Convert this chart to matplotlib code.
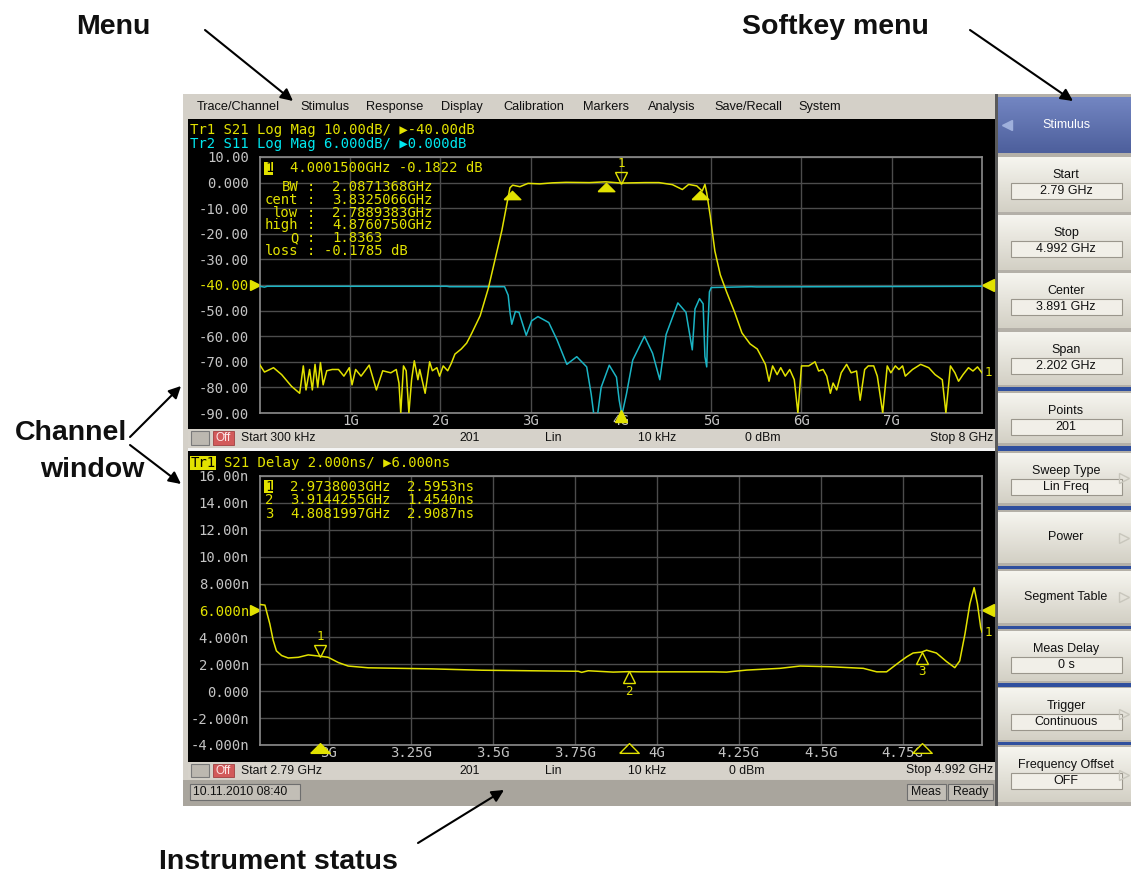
import numpy as np
import matplotlib
matplotlib.use("Agg")
import matplotlib.pyplot as plt
from matplotlib.patches import Rectangle
from matplotlib.colors import LinearSegmentedColormap
from matplotlib.transforms import offset_copy, blended_transform_factory

# ---------------- channel 1: log magnitude, 300 kHz .. 8 GHz ----------------
s21_freq = [0.0003, 0.05, 0.15, 0.24, 0.35, 0.44, 0.48, 0.51, 0.55, 0.58, 0.61, 0.64,
            0.67, 0.70, 0.74, 0.80, 0.87, 0.93, 0.99, 1.02, 1.06, 1.12, 1.21, 1.29,
            1.36, 1.45, 1.51, 1.54, 1.56, 1.59, 1.62, 1.65, 1.68, 1.71, 1.75, 1.77,
            1.83, 1.88, 1.91, 1.96, 1.99, 2.03, 2.08, 2.12, 2.16, 2.23, 2.29, 2.34,
            2.44, 2.53, 2.60, 2.68, 2.73, 2.77, 2.80, 2.88, 2.97, 3.10, 3.24, 3.39,
            3.65, 3.83, 4.00, 4.27, 4.42, 4.57, 4.68, 4.75, 4.84, 4.90, 4.93, 4.95,
            4.99, 5.04, 5.10, 5.17, 5.26, 5.34, 5.43, 5.51, 5.60, 5.64, 5.68, 5.73,
            5.77, 5.82, 5.87, 5.92, 5.96, 6.00, 6.08, 6.15, 6.19, 6.24, 6.28, 6.32,
            6.35, 6.39, 6.44, 6.50, 6.55, 6.61, 6.65, 6.70, 6.74, 6.80, 6.84, 6.90,
            6.95, 6.99, 7.04, 7.08, 7.12, 7.15, 7.23, 7.32, 7.41, 7.48, 7.56, 7.60,
            7.65, 7.70, 7.74, 7.79, 7.85, 7.90, 7.95, 8.00]
s21_db = [-71.3, -74.0, -72.3, -75.0, -79.6, -82.3, -71.6, -81.0, -73.0, -81.0, -71.0, -80.0,
          -70.3, -79.0, -73.5, -73.0, -73.0, -75.6, -72.3, -79.0, -73.0, -75.6, -71.3, -81.0,
          -73.5, -74.3, -73.0, -78.3, -90.0, -71.6, -73.5, -90.0, -77.0, -69.6, -77.0, -73.0,
          -82.3, -70.0, -73.5, -72.3, -75.6, -71.6, -73.5, -70.6, -67.0, -65.0, -62.7, -59.3,
          -52.0, -41.3, -30.7, -18.7, -9.3, -2.0, -1.0, -1.6, -0.3, -0.5, -0.1, 0.1,
          0.0, 0.3, -0.18, 0.0, 0.0, -0.8, -2.7, -0.7, -1.3, -3.3, -0.7, -4.0,
          -13.3, -26.7, -36.0, -42.7, -50.7, -58.7, -63.0, -65.0, -71.0, -77.6, -71.6, -75.0,
          -72.3, -75.6, -73.0, -77.0, -90.0, -71.6, -71.6, -70.0, -73.6, -73.0, -75.6, -82.3,
          -78.3, -81.0, -74.3, -71.0, -74.3, -73.6, -85.0, -73.0, -71.6, -71.6, -75.6, -90.0,
          -71.6, -74.3, -71.6, -73.0, -71.6, -75.6, -73.0, -71.0, -72.3, -75.0, -77.0, -90.0,
          -71.6, -74.3, -77.6, -75.0, -72.3, -73.6, -72.0, -74.3]

s11_freq = [0.0003, 0.05, 0.08, 2.07, 2.10, 2.71, 2.75, 2.77, 2.79, 2.83, 2.87, 2.95,
            3.01, 3.08, 3.20, 3.29, 3.40, 3.51, 3.62, 3.67, 3.70, 3.74, 3.78, 3.87,
            3.95, 3.98, 4.01, 4.06, 4.13, 4.26, 4.35, 4.43, 4.50, 4.63, 4.72, 4.79,
            4.82, 4.87, 4.91, 4.93, 4.95, 4.96, 4.98, 5.00, 5.44, 5.50, 8.00]
s11_db = [-0.3, -0.5, -0.3, -0.3, -0.4, -0.4, -2.4, -6.4, -9.2, -6.2, -6.4, -11.8,
          -8.4, -7.4, -8.8, -12.8, -18.6, -16.8, -19.2, -25.6, -30.5, -30.5, -24.0, -18.8,
          -21.6, -27.0, -30.5, -25.6, -17.6, -12.0, -16.0, -22.2, -11.6, -4.2, -6.4, -15.2,
          -5.6, -3.2, -4.4, -16.8, -19.2, -11.2, -1.6, -0.6, -0.4, -0.45, -0.3]

# scale settings of the two traces (Tr2 is drawn against the Tr1 grid)
s21_div, s21_ref = 10.0, -40.0
s11_div, s11_ref = 6.0, 0.0

mk1_freq, mk1_db = 4.0001500, -0.1822
bw_freq = [2.7889383, 3.8325066, 4.8760750]
bw_db = [-3.18, 0.0, -3.18]
bw_names = ["BW", "cent", "low", "high", "Q", "loss"]
bw_values = ["2.0871368GHz", "3.8325066GHz", "2.7889383GHz", "4.8760750GHz",
             "1.8363", "-0.1785 dB"]

# ---------------- channel 2: group delay, 2.79 .. 4.992 GHz ----------------
delay_freq = [2.790, 2.805, 2.820, 2.830, 2.840, 2.856, 2.876, 2.907, 2.937, 2.974,
              2.998, 3.029, 3.059, 3.120, 3.313, 3.466, 3.761, 3.771, 3.791, 3.867,
              3.914, 3.949, 4.172, 4.213, 4.274, 4.376, 4.437, 4.528, 4.630, 4.671,
              4.701, 4.742, 4.762, 4.782, 4.808, 4.823, 4.853, 4.884, 4.909, 4.924,
              4.940, 4.955, 4.968, 4.978, 4.988, 4.992]
delay_ns = [6.45, 6.40, 5.00, 3.80, 3.00, 2.65, 2.47, 2.52, 2.70, 2.60,
            2.52, 2.13, 1.87, 1.74, 1.66, 1.56, 1.48, 1.40, 1.52, 1.42,
            1.454, 1.44, 1.44, 1.42, 1.57, 1.70, 1.87, 1.82, 1.70, 1.44,
            1.44, 2.20, 2.55, 2.84, 2.91, 3.05, 2.84, 2.20, 1.75, 2.25,
            4.25, 6.50, 7.70, 6.50, 4.75, 4.40]
delay_ref = 6.0
dly_mk_freq = [2.9738003, 3.9144255, 4.8081997]
dly_mk_ns = [2.5953, 1.4540, 2.9087]

menu_items = ["Trace/Channel", "Stimulus", "Response", "Display", "Calibration",
              "Markers", "Analysis", "Save/Recall", "System"]
softkeys = ["Start", "Stop", "Center", "Span", "Points", "Sweep Type", "Power",
            "Segment Table", "Meas Delay", "Trigger", "Frequency Offset"]
softkey_values = ["2.79 GHz", "4.992 GHz", "3.891 GHz", "2.202 GHz", "201", "Lin Freq",
                  None, None, "0 s", "Continuous", "OFF"]

# ---------------- layout (pixels) ----------------
W, H = 1131, 877
YEL, CYA, GRY = '#e2e200', '#1bb4c4', '#c4c4c4'
MONO = ['DejaVu Sans Mono', 'DejaVu Sans']
SANS = ['Liberation Sans', 'DejaVu Sans']
CH = 8.36  # width of one monospace character at 10 pt, px

fig = plt.figure(figsize=(W / 100, H / 100), dpi=100)
fig.patch.set_facecolor('white')
ui = fig.add_axes([0, 0, 1, 1], zorder=0)
ui.axis('off')
# overlay for text drawn on top of the plot areas
ov = fig.add_axes([0, 0, 1, 1], zorder=10)
ov.axis('off')
ov.patch.set_alpha(0)


def rect(x0, y0, x1, y1, fc, ec='none', lw=0.0, z=1, ax=ui):
    ax.add_patch(Rectangle((x0, y0), x1 - x0, y1 - y0, facecolor=fc,
                           edgecolor=ec, linewidth=lw, zorder=z))


def grad(x0, y0, x1, y1, top, bottom, z=2):
    cmap = LinearSegmentedColormap.from_list('g', [top, bottom])
    ui.imshow(np.linspace(0, 1, 64).reshape(-1, 1), extent=(x0, x1, y1, y0),
              cmap=cmap, aspect='auto', interpolation='bilinear', zorder=z)


def txt(x, y, s, size=9, color='#101010', ha='left', weight='normal', family=SANS, z=6, ax=ui):
    ax.text(x, y, s, fontsize=size, color=color, ha=ha, va='center',
            fontweight=weight, family=family, zorder=z)


def mono(x, y, s, color=YEL, ha='left', z=7):
    txt(x, y, s, size=10, color=color, ha=ha, family=MONO, z=z, ax=ov)


def px_axes(x0, y0, x1, y1):
    return fig.add_axes([x0 / W, 1 - y1 / H, (x1 - x0) / W, (y1 - y0) / H], zorder=3)


# screen frame and menu bar
rect(183, 94, 997, 806, '#d4d0c8')
menu_x = [197, 300, 366, 441, 503, 583, 648, 714, 798]
for name, x in zip(menu_items, menu_x):
    txt(x, 107, name, size=9.2)

# channel windows
rect(188, 119, 995, 429, 'black')
rect(188, 451, 995, 762, 'black')
rect(188, 448, 995, 451, '#f4f4f4')

# channel status bars
status_top = [("Start 300 kHz", 241, 'left'), ("201", 470, 'center'), ("Lin", 553, 'center'),
              ("10 kHz", 657, 'center'), ("0 dBm", 763, 'center'), ("Stop 8 GHz", 993, 'right')]
status_bot = [("Start 2.79 GHz", 241, 'left'), ("201", 470, 'center'), ("Lin", 553, 'center'),
              ("10 kHz", 647, 'center'), ("0 dBm", 747, 'center'), ("Stop 4.992 GHz", 993, 'right')]
for (y0, y1, items) in [(429, 447, status_top), (762, 779, status_bot)]:
    rect(188, y0, 995, y1, '#d6d2ca')
    rect(191, y0 + 2, 209, y1 - 2, '#bcb8b0', ec='#7a7a7a', lw=0.8, z=2)
    rect(213, y0 + 2, 234, y1 - 2, '#d25a5a', ec='#a04040', lw=0.6, z=2)
    txt(223.5, (y0 + y1) / 2, "Off", size=8.5, color='#fbe6e6', ha='center')
    for s, x, ha in items:
        txt(x, (y0 + y1) / 2, s, size=8.8, ha=ha)

# instrument status bar
rect(183, 780, 997, 806, '#a9a59d')
rect(190, 784, 300, 800, '#c2beb6', ec='#6e6e6e', lw=0.8, z=2)
txt(193, 792, "10.11.2010 08:40", size=8.8)
rect(907, 784, 946, 800, '#c2beb6', ec='#6e6e6e', lw=0.8, z=2)
txt(926.5, 792, "Meas", size=8.8, ha='center')
rect(948, 784, 993, 800, '#c2beb6', ec='#6e6e6e', lw=0.8, z=2)
txt(970.5, 792, "Ready", size=8.8, ha='center')

# softkey panel
rect(995, 94, 1131, 806, '#b4b0a8')
rect(995, 94, 998, 806, '#5a5a5a', z=2)
grad(998, 97, 1131, 153, '#7386c2', '#4d5f9c')
ui.plot([1007], [125], marker='<', ms=7, color='#9fb0dc', zorder=6)
txt(1066, 125, "Stimulus", size=9, color='white', ha='center')
key_top = [157, 215, 273, 332, 393, 453, 512, 571, 631, 688, 747]
key_bot = [212, 270, 328, 385, 443, 503, 563, 623, 681, 740, 802]
blue_sep = [(387, 391), (446, 451), (506, 510), (566, 569), (626, 629), (683, 687), (742, 745)]
for y0, y1 in blue_sep:
    rect(998, y0, 1131, y1, '#2f4f9e', z=2)
for name, val, y0, y1 in zip(softkeys, softkey_values, key_top, key_bot):
    grad(998, y0, 1131, y1, '#f6f5ef', '#d3d0c5')
    if val is None:
        txt(1066, (y0 + y1) / 2, name, size=9, ha='center')
    else:
        txt(1066, y0 + 18, name, size=9, ha='center')
        rect(1011, y0 + 26, 1122, y0 + 42, '#f1efe8', ec='#9a968c', lw=0.8, z=4)
        txt(1066, y0 + 34, val, size=9, ha='center')
    if name in ("Sweep Type", "Power", "Segment Table", "Trigger", "Frequency Offset"):
        ui.plot([1124], [(y0 + y1) / 2], marker='>', ms=7, mfc='none', mec='#c8c6bc',
                mew=1.0, zorder=6)

# trace headers
mono(190, 130, "Tr1 S21 Log Mag 10.00dB/ \u25b6-40.00dB")
mono(190, 144, "Tr2 S11 Log Mag 6.000dB/ \u25b60.000dB", color='#00e8f0')
rect(190, 456, 216, 470, YEL, z=5)
mono(191, 463, "Tr1", color='black')
mono(191 + 4 * CH, 463, "S21 Delay 2.000ns/ \u25b66.000ns")


def style_plot(ax, yticks, ylabels, ref_label, xticks, xlabels):
    ax.set_facecolor('black')
    for sp in ax.spines.values():
        sp.set_color('#8c8c8c')
        sp.set_linewidth(1.2)
    ax.set_yticks(yticks)
    ax.set_yticklabels(ylabels)
    ax.set_xticks(xticks)
    ax.set_xticklabels(xlabels)
    ax.grid(True, color='#4c4c4c', lw=1.0)
    ax.set_axisbelow(True)
    ax.tick_params(axis='y', length=0, pad=8, colors=GRY, labelsize=10)
    ax.tick_params(axis='x', length=0, pad=1, colors=GRY, labelsize=10)
    for lab in ax.get_xticklabels() + ax.get_yticklabels():
        lab.set_family(MONO)
        if lab.get_text() == ref_label:
            lab.set_color(YEL)


def ref_arrows(ax, y, end_value):
    tr = blended_transform_factory(ax.transAxes, ax.transData)
    ax.plot([-0.007], [y], marker='>', ms=7, color=YEL, transform=tr, clip_on=False)
    ax.plot([1.008], [y], marker='<', ms=8, color=YEL, transform=tr, clip_on=False)
    ax.text(1.004, end_value, "1", color=YEL, fontsize=9, family=MONO, va='center',
            transform=tr, clip_on=False)


flat_up = [(-1, -0.5), (1, -0.5), (0, 0.5), (-1, -0.5)]

# ---------------- upper plot ----------------
ax1 = px_axes(260, 157, 982, 413)
ax1.set_xlim(0.0003, 8.0)
ax1.set_ylim(-90, 10)
style_plot(ax1, np.arange(10, -91, -10),
           ["10.00", "0.000", "-10.00", "-20.00", "-30.00", "-40.00", "-50.00",
            "-60.00", "-70.00", "-80.00", "-90.00"], "-40.00",
           np.arange(1, 8), [f"{g}G" for g in range(1, 8)])
s11_screen = s21_ref + (np.array(s11_db) - s11_ref) / s11_div * s21_div
ax1.plot(s11_freq, s11_screen, color=CYA, lw=1.1, zorder=3)
ax1.plot(s21_freq, s21_db, color=YEL, lw=1.1, zorder=4)
ref_arrows(ax1, s21_ref, s21_db[-1])

# marker 1 and bandwidth markers
ax1.plot([mk1_freq], [mk1_db], marker='v', ms=8, mfc='none', mec=YEL, mew=1.0,
         transform=offset_copy(ax1.transData, fig=fig, y=4, units='points'), zorder=6)
ax1.annotate("1", (mk1_freq, mk1_db), xytext=(0, 14), textcoords='offset points',
             color=YEL, fontsize=9, family=MONO, ha='center', va='center')
ax1.plot(bw_freq, bw_db, ls='none', marker=flat_up, ms=12, color=YEL,
         transform=offset_copy(ax1.transData, fig=fig, y=-3, units='points'), zorder=6)
bt1 = blended_transform_factory(ax1.transData, ax1.transAxes)
ax1.plot([mk1_freq], [-0.012], marker='^', ms=8, color=YEL, transform=bt1,
         clip_on=False, zorder=7)

# marker table of channel 1
rect(264, 162, 273, 175, YEL, z=5, ax=ov)
mono(265, 168, "1", color='black')
mono(265 + 3 * CH, 168, f"{mk1_freq:.7f}GHz {mk1_db:.4f} dB")
for i, (name, val) in enumerate(zip(bw_names, bw_values)):
    y = 187 + 12.8 * i
    mono(265 + 4 * CH, y, name, ha='right')
    mono(265 + 5 * CH, y, ":")
    mono(265 + (7 if val.startswith('-') else 8) * CH, y, val)

# ---------------- lower plot ----------------
ax2 = px_axes(260, 476, 982, 745)
ax2.set_xlim(2.79, 4.992)
ax2.set_ylim(-4, 16)
style_plot(ax2, np.arange(16, -5, -2),
           ["16.00n", "14.00n", "12.00n", "10.00n", "8.000n", "6.000n", "4.000n",
            "2.000n", "0.000", "-2.000n", "-4.000n"], "6.000n",
           np.arange(3.0, 4.76, 0.25),
           ["3G", "3.25G", "3.5G", "3.75G", "4G", "4.25G", "4.5G", "4.75G"])
ax2.plot(delay_freq, delay_ns, color=YEL, lw=1.1, zorder=4)
ref_arrows(ax2, delay_ref, delay_ns[-1])

ax2.plot(dly_mk_freq[:1], dly_mk_ns[:1], marker='v', ms=8, mfc='none', mec=YEL, mew=1.0,
         transform=offset_copy(ax2.transData, fig=fig, y=4, units='points'), zorder=6)
ax2.annotate("1", (dly_mk_freq[0], dly_mk_ns[0]), xytext=(0, 14), textcoords='offset points',
             color=YEL, fontsize=9, family=MONO, ha='center', va='center')
ax2.plot(dly_mk_freq[1:], dly_mk_ns[1:], ls='none', marker='^', ms=8, mfc='none', mec=YEL,
         mew=1.0, transform=offset_copy(ax2.transData, fig=fig, y=-4, units='points'), zorder=6)
for k in (1, 2):
    ax2.annotate(str(k + 1), (dly_mk_freq[k], dly_mk_ns[k]), xytext=(0, -14),
                 textcoords='offset points', color=YEL, fontsize=9, family=MONO,
                 ha='center', va='center')
bt2 = blended_transform_factory(ax2.transData, ax2.transAxes)
ax2.plot(dly_mk_freq[:1], [-0.012], marker=flat_up, ms=14, color=YEL, transform=bt2,
         clip_on=False, zorder=7)
ax2.plot(dly_mk_freq[1:], [-0.012, -0.012], ls='none', marker=flat_up, ms=14, mfc='black',
         mec=YEL, mew=1.0, transform=bt2, clip_on=False, zorder=7)

# marker table of channel 2
rect(264, 480, 273, 493, YEL, z=5, ax=ov)
for i, (f, v) in enumerate(zip(dly_mk_freq, dly_mk_ns)):
    y = 486.7 + 13.8 * i
    mono(265, y, str(i + 1), color='black' if i == 0 else YEL)
    mono(265 + 3 * CH, y, f"{f:.7f}GHz")
    mono(265 + 17 * CH, y, f"{v:.4f}ns")

# ---------------- callouts ----------------
txt(113, 27, "Menu", size=20.5, weight='bold', ha='center')
txt(835, 27, "Softkey menu", size=20.5, weight='bold', ha='center')
txt(15, 433, "Channel", size=20.5, weight='bold')
txt(40, 470, "window", size=20.5, weight='bold')
txt(278, 862, "Instrument status", size=20.5, weight='bold', ha='center')
arrows = [((205, 30), (293, 101)), ((970, 30), (1073, 101)), ((130, 437), (181, 386)),
          ((130, 445), (181, 484)), ((418, 843), (504, 790))]
for (xs, ys), (xe, ye) in arrows:
    ov.annotate("", xy=(xe, ye), xytext=(xs, ys),
                arrowprops=dict(arrowstyle='-|>', color='black', lw=1.5,
                                mutation_scale=18, shrinkA=0, shrinkB=0), zorder=8)

for a in (ui, ov):
    a.set_xlim(0, W)
    a.set_ylim(H, 0)
fig.savefig("out.png", dpi=100, facecolor='white')
